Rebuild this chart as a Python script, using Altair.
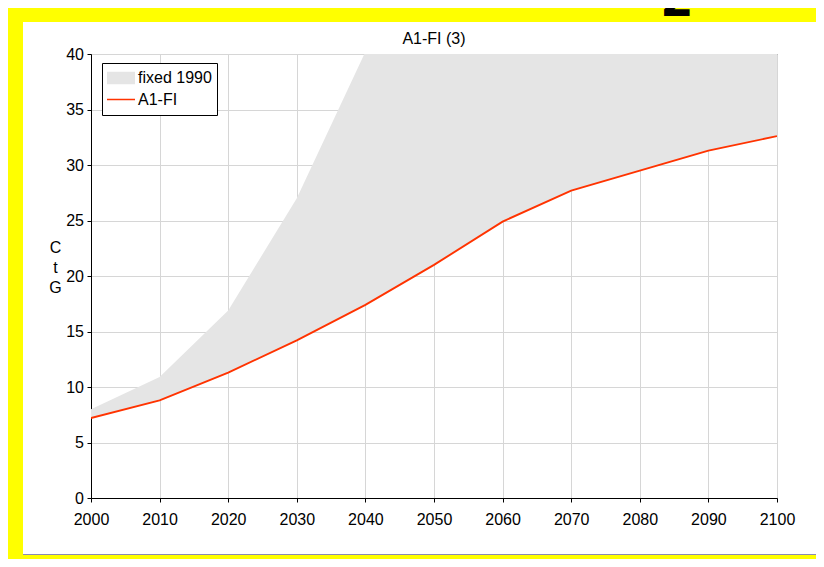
import altair as alt
import pandas as pd

# ---- data ----
years = [2000, 2010, 2020, 2030, 2040, 2050, 2060, 2070, 2080, 2090, 2100]
a1fi = [7.2, 8.8, 11.3, 14.2, 17.4, 21.0, 24.9, 27.7, 29.5, 31.3, 32.6]
fixed_1990 = [8.0, 10.9, 16.9, 27.0, 40.2, 52.0, 63.0, 72.0, 80.0, 86.0, 92.0]
x_ticks = list(range(2000, 2101, 10))
y_ticks = list(range(0, 41, 5))
series_names = ["fixed 1990", "A1-FI"]
series_colors = ["#e5e5e5", "#ff3300"]
series_symbols = ["M-1,-0.45H1V0.45H-1Z", "M-1,-0.055H1V0.055H-1Z"]
title_text = "A1-FI (3)"
y_title = ["C", "t", "G"]
corner_mark = "2"

FONT = "Liberation Sans"
W, H = 686, 444
PAD = {"left": 83, "top": 46, "right": 39, "bottom": 61}

df = pd.DataFrame({"year": years, "a1fi": a1fi, "fixed": fixed_1990})

x_enc = alt.X(
    "year:Q",
    scale=alt.Scale(domain=[2000, 2100], nice=False, zero=False),
    axis=alt.Axis(values=x_ticks, format="d", title=None, tickSize=4,
                  labelPadding=9, labelFlush=False, labelOverlap=False),
)
y_enc = alt.Y(
    "a1fi:Q",
    scale=alt.Scale(domain=[0, 40], nice=False),
    axis=alt.Axis(values=y_ticks, title=y_title, titleAngle=0, titleX=-36, titleY=198,
                  titleAlign="center", titleBaseline="alphabetic", titleLineHeight=20,
                  tickSize=4, labelPadding=3.5, labelFlush=False, labelOverlap=False),
)

color_scale = alt.Scale(domain=series_names, range=series_colors)
legend = alt.Legend(
    title=None, orient="none", legendX=11, legendY=9, direction="vertical",
    strokeColor="black", fillColor="white", padding=5,
    labelFont=FONT, labelFontSize=16, labelColor="black",
    symbolSize=784, clipHeight=20, rowPadding=1.5, labelOffset=3,
    symbolStrokeWidth=0, symbolOpacity=1,
)

area = (
    alt.Chart(df)
    .transform_calculate(series=f"'{series_names[0]}'")
    .mark_area(clip=True)
    .encode(x=x_enc, y=y_enc, y2="fixed:Q",
            color=alt.Color("series:N", scale=color_scale, legend=None))
)
line = (
    alt.Chart(df)
    .transform_calculate(series=f"'{series_names[1]}'")
    .mark_line(strokeWidth=1.9, clip=True)
    .encode(x=x_enc, y=y_enc,
            color=alt.Color("series:N", scale=color_scale, legend=None))
)
# legend-only layer: no data rows survive, the legend comes from the explicit domains
legend_layer = (
    alt.Chart(df)
    .transform_filter("false")
    .transform_calculate(series=f"'{series_names[0]}'")
    .mark_point(filled=True, opacity=1)
    .encode(
        x=x_enc, y=y_enc,
        color=alt.Color("series:N", scale=color_scale, legend=legend),
        shape=alt.Shape("series:N",
                        scale=alt.Scale(domain=series_names, range=series_symbols),
                        legend=legend),
    )
)

# ---- title and slide decoration (yellow frame, panel edge, corner glyph) ----
deco = pd.DataFrame({"k": [0]})
title = alt.Chart(deco).mark_text(
    text=title_text, font=FONT, fontSize=16, color="black",
    align="center", baseline="alphabetic"
).encode(x=alt.value(W / 2), y=alt.value(-10))
frame = alt.Chart(deco).mark_rect(fill="transparent", stroke="#ffff00", strokeWidth=30).encode(
    x=alt.value(-83), x2=alt.value(742), y=alt.value(-47), y2=alt.value(515)
)
edge = alt.Chart(deco).mark_rule(color="#8a8ab4", strokeWidth=1).encode(
    x=alt.value(-68), x2=alt.value(735), y=alt.value(500.5)
)
corner = alt.Chart(deco).mark_text(
    text=corner_mark, font="DejaVu Sans", fontWeight="bold", fontSize=48,
    color="black", align="center", baseline="alphabetic"
).encode(x=alt.value(586), y=alt.value(-38.3))

chart = (
    alt.layer(frame, edge, area, line, legend_layer, title, corner)
    .resolve_legend(color="independent", shape="independent")
    .properties(
        width=W, height=H, padding=PAD,
        autosize=alt.AutoSizeParams(type="none"),
    )
    .configure(background="white", font=FONT)
    .configure_view(stroke="#555555", strokeWidth=1)
    .configure_axis(labelFont=FONT, labelFontSize=16, labelColor="black",
                    titleFont=FONT, titleFontSize=16, titleColor="black",
                    titleFontWeight="normal", domainColor="black", tickColor="black",
                    gridColor="#d6d6d6", gridWidth=1, grid=True)
)

chart.save("out.html", embed_options={"renderer": "svg", "actions": False})
